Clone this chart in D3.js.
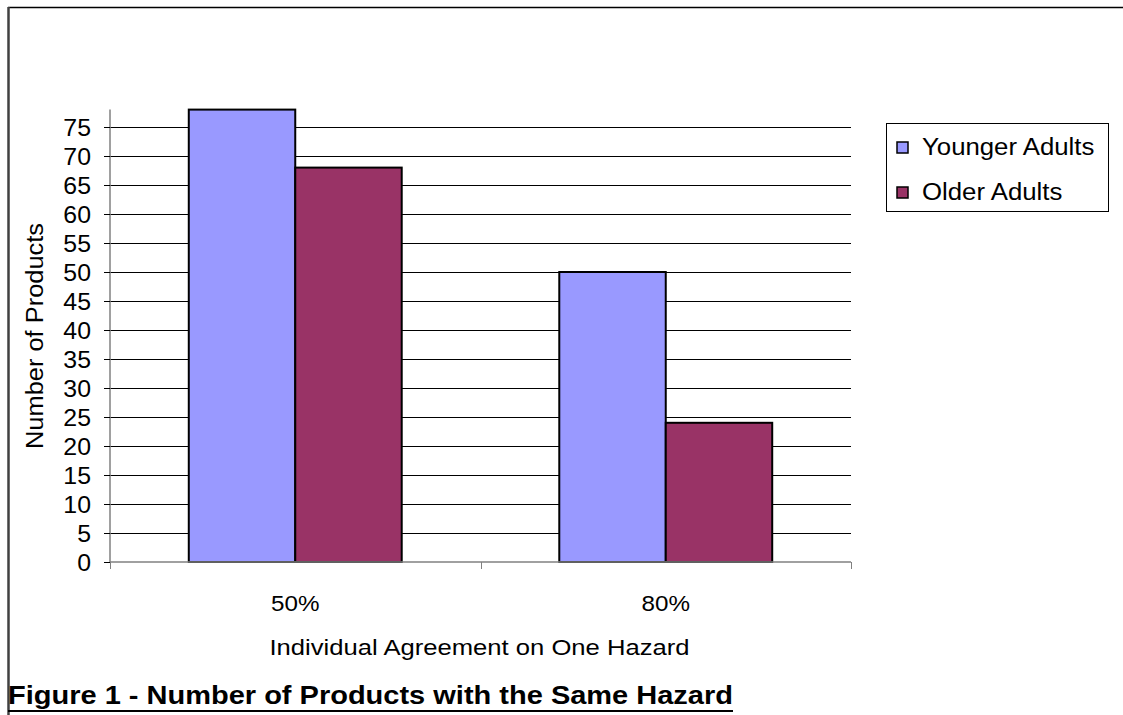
<!DOCTYPE html>
<html>
<head>
<meta charset="utf-8">
<script src="https://cdn.jsdelivr.net/npm/d3@7"></script>
<style>
  html, body { margin: 0; padding: 0; background: #fff; }
  svg { display: block; font-family: "Liberation Sans", Arial, sans-serif; }
</style>
</head>
<body>
<svg id="chart" width="1123" height="715"></svg>
<script>
// Data
const categories = ["50%", "80%"];
const seriesNames = ["Younger Adults", "Older Adults"];
const younger = [78, 50];
const older = [68, 24];
const yTicks = [0, 5, 10, 15, 20, 25, 30, 35, 40, 45, 50, 55, 60, 65, 70, 75];
const yMax = 78;
const colors = ["#9999FF", "#993366"];
const yTitle = "Number of Products";
const xTitle = "Individual Agreement on One Hazard";
const caption = "Figure 1 - Number of Products with the Same Hazard";

const svg = d3.select("#chart");

// Stretch text glyphs horizontally by a factor (wide rendering of the chart text)
function widen(sel, factor) {
  sel.each(function () {
    const w = this.getComputedTextLength();
    d3.select(this).attr("textLength", w * factor).attr("lengthAdjust", "spacingAndGlyphs");
  });
}

// Outer frame (top and left edges visible)
svg.append("line").attr("x1", 8).attr("x2", 1123).attr("y1", 7.5).attr("y2", 7.5)
  .attr("stroke", "#000").attr("stroke-width", 1.5);
svg.append("line").attr("x1", 8.5).attr("x2", 8.5).attr("y1", 7).attr("y2", 715)
  .attr("stroke", "#404040").attr("stroke-width", 2.5);

const plot = { left: 110, right: 851, top: 109.6, bottom: 562 };

const y = d3.scaleLinear().domain([0, yMax]).range([plot.bottom, plot.top]);
const x0 = d3.scaleBand().domain(categories).range([plot.left, plot.right]).padding(0);
const x1 = d3.scaleBand().domain(seriesNames).range([0, x0.bandwidth()])
  .paddingInner(0).paddingOuter(0.74);

// Gridlines
svg.append("g").selectAll("line").data(yTicks.filter(d => d > 0)).join("line")
  .attr("x1", plot.left).attr("x2", plot.right)
  .attr("y1", d => Math.round(y(d)) + 0.5).attr("y2", d => Math.round(y(d)) + 0.5)
  .attr("stroke", "#000").attr("stroke-width", 1);

// Bars
const rows = categories.map((c, i) => ({ cat: c, vals: [younger[i], older[i]] }));
const groups = svg.append("g").selectAll("g").data(rows).join("g")
  .attr("transform", d => `translate(${x0(d.cat)},0)`);
groups.selectAll("rect").data(d => d.vals.map((v, j) => ({ name: seriesNames[j], v, j }))).join("rect")
  .attr("x", d => x1(d.name))
  .attr("y", d => y(d.v))
  .attr("width", x1.bandwidth())
  .attr("height", d => y(0) - y(d.v))
  .attr("fill", d => colors[d.j])
  .attr("stroke", "#000").attr("stroke-width", 2);

// Y axis
const yAxis = svg.append("g").attr("transform", `translate(${plot.left},0)`)
  .call(d3.axisLeft(y).tickValues(yTicks).tickSize(6).tickPadding(0).tickFormat(d3.format("d")));
yAxis.select(".domain").attr("stroke", "#808080").attr("stroke-width", 1.5)
  .attr("d", `M0,${plot.top}V${plot.bottom}`);
yAxis.selectAll(".tick line").attr("stroke", "#000");
yAxis.selectAll(".tick text")
  .attr("x", -19).attr("dy", "0.36em")
  .style("font-size", "23px").attr("fill", "#000").attr("font-family", null);
widen(yAxis.selectAll(".tick text"), 1.08);

// X axis
const xAxis = svg.append("g").attr("transform", `translate(0,${plot.bottom})`)
  .call(d3.axisBottom(x0).tickSize(0).tickPadding(0));
xAxis.select(".domain").attr("stroke", "#808080").attr("stroke-width", 1.5)
  .attr("d", `M${plot.left},0H${plot.right}`);
xAxis.selectAll(".tick text").attr("y", 49).attr("dy", 0)
  .style("font-size", "22px").attr("fill", "#000").attr("font-family", null);
widen(xAxis.selectAll(".tick text"), 1.1);
// category separators
const seps = [plot.left].concat(categories.map(c => x0(c) + x0.bandwidth()));
xAxis.append("g").selectAll("line").data(seps).join("line")
  .attr("x1", d => Math.round(d) + 0.5).attr("x2", d => Math.round(d) + 0.5)
  .attr("y1", 0).attr("y2", 7).attr("stroke", "#808080").attr("stroke-width", 1);

// Axis titles
const xt = svg.append("text").attr("x", (plot.left + plot.right) / 2 - 1).attr("y", 655)
  .attr("text-anchor", "middle").style("font-size", "22px").text(xTitle);
xt.attr("textLength", 420).attr("lengthAdjust", "spacingAndGlyphs");
const yt = svg.append("text").attr("transform", "translate(43,336) rotate(-90)")
  .attr("text-anchor", "middle").style("font-size", "23px").text(yTitle);
yt.attr("textLength", 226).attr("lengthAdjust", "spacingAndGlyphs");

// Legend
const legend = svg.append("g");
legend.append("rect").attr("x", 886.5).attr("y", 123.5).attr("width", 222).attr("height", 88)
  .attr("fill", "#fff").attr("stroke", "#000").attr("stroke-width", 1);
const items = legend.selectAll("g.item").data(seriesNames).join("g").attr("class", "item")
  .attr("transform", (d, i) => `translate(897,${142 + i * 45})`);
items.append("rect").attr("width", 11).attr("height", 11)
  .attr("fill", (d, i) => colors[i]).attr("stroke", "#000").attr("stroke-width", 1.5);
items.append("text").attr("x", 25).attr("y", 12.5).style("font-size", "23px").text(d => d);
widen(items.selectAll("text"), 1.12);

// Caption
const cap = svg.append("text").attr("x", 8).attr("y", 704)
  .style("font-size", "25px").style("font-weight", "bold").text(caption);
cap.attr("textLength", 725).attr("lengthAdjust", "spacingAndGlyphs");
svg.append("line").attr("x1", 8).attr("x2", 733).attr("y1", 711).attr("y2", 711)
  .attr("stroke", "#000").attr("stroke-width", 2);
</script>
</body>
</html>
